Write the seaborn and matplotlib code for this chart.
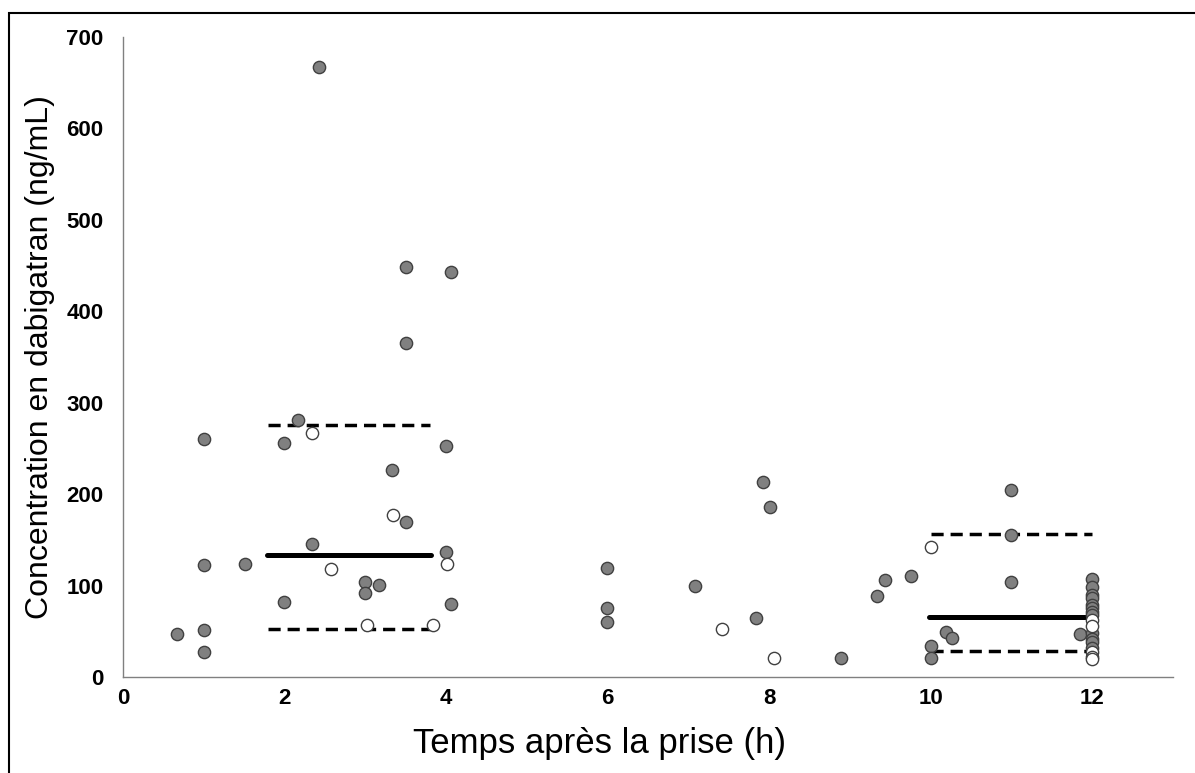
import pandas as pd
import seaborn as sns
import matplotlib.pyplot as plt
from matplotlib.patches import Rectangle

# gray points (filled)
gray_x = [0.67, 1.0, 1.0, 1.0, 1.0, 1.51, 2.0, 2.0, 2.17, 2.34, 2.43, 3.0, 3.0, 3.17, 3.33,
          3.5, 3.5, 3.5, 4.0, 4.0, 4.06, 4.06, 6.0, 6.0, 6.0, 7.08, 7.84, 7.93, 8.01, 8.89,
          9.34, 9.44, 9.76, 10.0, 10.0, 10.19, 10.27, 11.0, 11.0, 11.0, 11.85,
          12, 12, 12, 12, 12, 12, 12, 12, 12, 12, 12, 12]
gray_y = [46.7, 260, 123, 51, 27.7, 124, 256, 82, 281, 145.5, 667, 104, 92, 100.6, 226,
          169, 448, 365, 253, 137, 443, 79.5, 119, 76, 60, 99.6, 64, 213, 186, 20.4,
          88.6, 105.8, 110.8, 34.3, 21, 49.6, 43, 204, 155, 103.6, 46.7,
          107, 98, 90, 86, 79, 75, 71, 68, 48, 42, 38, 32]

# white points (open)
white_x = [2.34, 3.34, 4.01, 2.58, 3.02, 3.84, 7.42, 8.06, 10.01, 12, 12, 12, 12, 12]
white_y = [267, 177, 124, 118.5, 56.5, 56.5, 52.5, 20.4, 142.6, 62, 56, 27, 22, 20]

# median and interquartile lines per group
grp_start = [1.8, 10.0]
grp_end = [3.8, 12.0]
median = [133.5, 66]
q1 = [52.9, 28.8]
q3 = [275.7, 156]

gray_df = pd.DataFrame({'t': gray_x, 'c': gray_y})
white_df = pd.DataFrame({'t': white_x, 'c': white_y})

sns.set_style('white')
plt.rcParams['font.family'] = ['Liberation Sans', 'DejaVu Sans']

fig = plt.figure(figsize=(11.95, 7.73), dpi=100)
ax = fig.add_axes([0.1029, 0.1242, 0.8785, 0.828])

ax.hlines(q3, grp_start, grp_end, colors='black', linestyles=(0, (3.5, 2)), lw=2.5, zorder=1)
ax.hlines(q1, grp_start, grp_end, colors='black', linestyles=(0, (3.5, 2)), lw=2.5, zorder=1)
ax.hlines(median, [s - 0.02 for s in grp_start], [e + 0.02 for e in grp_end],
          colors='black', lw=3.6, zorder=1, capstyle='round')

sns.scatterplot(data=gray_df, x='t', y='c', ax=ax, s=78, color='#808080',
                edgecolor='#404040', linewidth=1.0, zorder=3)
sns.scatterplot(data=white_df, x='t', y='c', ax=ax, s=78, color='white',
                edgecolor='#404040', linewidth=1.0, zorder=4)

ax.set_xlim(0, 13)
ax.set_ylim(0, 700)
ax.set_xticks([0, 2, 4, 6, 8, 10, 12])
ax.set_yticks(range(0, 701, 100))
for lab in ax.get_xticklabels() + ax.get_yticklabels():
    lab.set_fontweight('bold')
ax.tick_params(axis='x', length=0, pad=8, labelsize=16, labelcolor='black')
ax.tick_params(axis='y', length=0, pad=14, labelsize=16, labelcolor='black')

for side in ['top', 'right']:
    ax.spines[side].set_visible(False)
for side in ['left', 'bottom']:
    ax.spines[side].set_color('#808080')
    ax.spines[side].set_linewidth(1.0)

ax.set_xlabel('Temps après la prise (h)', fontsize=25, color='black')
ax.xaxis.set_label_coords(0.454, -0.078)
ax.set_ylabel('Concentration en dabigatran (ng/mL)', fontsize=23, labelpad=8, color='black')

# outer frame (only left and top edges inside the picture)
fig.patches.append(Rectangle((9 / 1195, -0.1), 1.2, 1.1 - 13 / 773, transform=fig.transFigure,
                             fill=False, edgecolor='black', lw=1.5))

fig.savefig('out.png', dpi=100)
